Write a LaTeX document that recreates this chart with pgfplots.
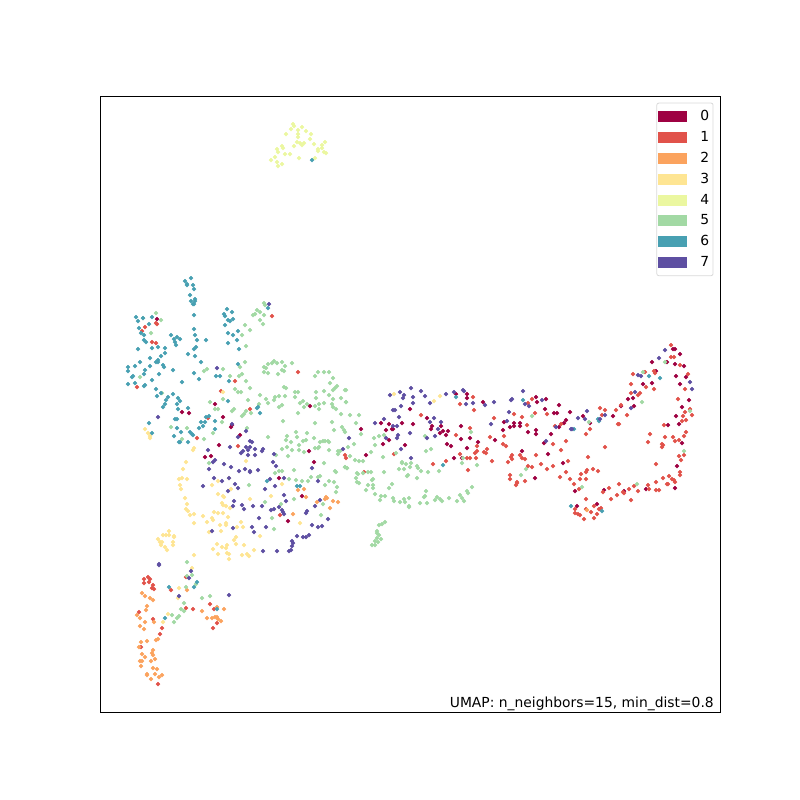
\documentclass[border=0pt]{standalone}
\usepackage{fontspec}
\setmainfont{DejaVu Sans}
\usepackage{pgfplots}
\pgfplotsset{compat=1.18}
\definecolor{c0}{HTML}{9E0142}
\definecolor{c1}{HTML}{E1524A}
\definecolor{c2}{HTML}{FBA35E}
\definecolor{c3}{HTML}{FEE593}
\definecolor{c4}{HTML}{EBF7A0}
\definecolor{c5}{HTML}{A2D9A4}
\definecolor{c6}{HTML}{48A0B2}
\definecolor{c7}{HTML}{5E4FA2}
\pgfplotsset{pt/.style={only marks, mark=*, mark size=1.42pt, color=#1, mark options={draw=none, fill=#1},
  legend image code/.code={\fill[#1,sharp corners] (0pt,-3.7pt) rectangle (21pt,3.7pt);}}}
\begin{document}
\begin{tikzpicture}[x=1pt,y=1pt]
\path (0,0) rectangle (600,600);
\begin{axis}[at={(75pt,65.6pt)},anchor=south west,scale only axis,width=465pt,height=462pt,
  xmin=100,xmax=720,ymin=96.5,ymax=712.5,y dir=reverse,xtick=\empty,ytick=\empty,
  axis line style={line width=0.6pt},
  legend cell align=left,
  legend style={at={(0.9895,0.99)},anchor=north east,draw=black!15,rounded corners=1.5pt,line width=0.6pt,
    font=\fontsize{10.4}{12}\selectfont,row sep=2.52pt,inner xsep=1pt,inner ysep=3.3pt,
    /tikz/every odd column/.append style={column sep=8pt},
    /tikz/every even column/.append style={column sep=4pt}}]
\addplot[pt=c0] coordinates {(157,319)(215,404)(182,412)(189,413)(223,417)(232,425)(231,427)
(310,406)(309,451)(314,462)(240,435)(219,445)(205,457)(211,456)(279,478)(302,496)(288,521)
(410,409)(381,423)(389,424)(402,423)(413,424)(386,430)(392,429)(393,429)(361,429)(389,440)(383,444)(405,445)(366,455)(427,418)(432,426)(441,426)(431,429)(440,433)(443,431)(448,431)(446,435)(461,426)(461,439)(470,438)(478,442)(447,444)(451,446)(467,448)(454,458)(462,458)(456,394)(467,394)(467,398)
(483,402)(536,397)(537,402)(546,399)(545,409)(559,405)(554,413)(557,413)(566,420)(564,423)(559,427)(504,422)(514,423)(514,426)(520,423)(520,426)(510,427)(503,430)(528,432)(536,430)(536,434)(551,434)(495,440)(544,443)(522,451)(548,454)(563,463)(535,478)
(675,349)(673,349)(680,354)(652,362)(667,362)(675,364)(684,366)(656,371)(676,376)(686,377)(643,384)(652,383)(680,384)(628,399)(633,398)(689,400)(634,406)(621,406)(682,407)(676,416)(613,416)(679,424)(668,425)(583,416)(590,423)(570,412)(682,443)(677,466)(675,488)(646,489)(624,491)(604,490)(575,491)(577,506)(597,504)};
\addlegendentry{0}
\addplot[pt=c1] coordinates {(145,327)(142,331)(156,323)(157,324)(152,342)(156,343)(137,387)(235,381)(221,391)(250,409)(208,418)
(272,316)(298,372)(345,455)(346,458)(238,446)(197,438)(280,515)
(148,577)(144,579)(150,579)(144,583)(149,582)(153,585)(152,588)(154,589)(171,590)(186,577)(139,612)(153,619)(162,628)(160,634)(141,647)(158,684)(186,608)(193,609)(210,604)(214,609)(217,623)(213,628)
(421,415)(473,397)(460,404)(474,410)(456,435)(470,428)(364,472)(394,454)(433,464)(446,461)(460,454)(477,446)(477,451)(475,453)(467,458)(470,458)(476,458)(468,470)
(532,399)(528,403)(514,414)(522,417)(535,413)(547,414)(494,418)(527,425)(555,426)(561,424)(504,436)(490,437)(503,444)(506,446)(566,441)(553,444)(561,450)(487,449)(484,452)(486,453)(492,461)(512,455)(511,457)(512,459)(508,462)(520,455)(536,455)(522,458)(525,459)(568,461)(528,466)(532,467)(541,464)(553,466)(547,469)(566,472)(510,475)(510,479)(525,481)(517,482)(517,483)(516,485)(560,477)
(671,345)(671,357)(674,357)(680,365)(654,371)(655,373)(645,372)(633,374)(688,374)(631,384)(646,387)(654,389)(685,389)(640,393)(638,395)(631,393)(678,399)(616,410)(621,405)(605,410)(600,408)(627,415)(602,415)(683,416)(685,412)(690,409)(692,415)(686,420)(682,421)(664,425)(686,432)(684,436)(679,440)(675,441)(618,424)(619,424)(590,429)(586,434)(650,434)(648,442)(665,437)(673,437)(662,444)(663,445)(662,447)(605,447)(588,457)(684,455)(679,456)(681,460)(656,464)(593,469)(598,471)(587,470)(586,472)(581,474)(586,479)(580,479)(570,479)(574,484)(680,472)(680,475)(669,476)(663,478)(672,479)(674,480)(675,482)(656,482)(619,484)(668,484)(667,484)(634,486)(648,485)(609,488)(649,489)(656,490)(659,490)(629,489)(638,491)(623,492)(624,493)(603,492)(579,489)(617,495)(611,499)(631,500)(586,499)(594,506)(586,509)(575,509)(575,513)(578,514)(580,515)(591,512)(600,509)(601,508)(599,509)(597,514)(594,518)(584,519)};
\addlegendentry{1}
\addplot[pt=c2] coordinates {(298,490)(304,489)(306,497)(326,497)(327,498)(325,499)(317,502)(333,501)(338,502)(330,508)(293,514)
(187,590)(142,593)(145,596)(150,598)(153,600)(147,606)(146,610)(137,615)(140,618)(145,622)(154,622)(140,626)(144,629)(147,641)(156,640)(158,639)(141,642)(139,647)(153,650)(142,654)(152,653)(153,655)(145,657)(155,659)(151,661)(140,661)(142,661)(141,666)(153,668)(157,669)(147,674)(147,675)(155,674)(162,675)(159,677)(151,679)(202,611)(224,609)(217,607)(207,618)(212,618)(215,617)(217,617)(218,619)(221,621)(587,510)};
\addlegendentry{2}
\addplot[pt=c3] coordinates {(223,392)(145,429)(148,433)(150,436)(150,438)
(194,448)(193,450)(246,461)(186,462)(183,469)(179,479)(182,478)(187,479)(180,485)(181,489)(218,481)(212,485)(229,478)(218,494)(223,496)(224,497)(231,489)(185,498)(187,504)(186,509)(188,511)(190,515)(194,514)(223,505)(222,503)(226,506)(230,508)(250,499)(214,512)(218,513)(223,513)(203,516)(212,518)(213,520)(228,517)
(282,484)(271,496)(300,523)
(194,523)(207,522)(220,525)(226,523)(226,525)(241,522)(237,527)(243,527)(209,532)(221,531)(260,536)(236,537)(234,540)(217,544)(227,545)(226,548)(222,547)(213,549)(244,545)(236,544)(254,550)(218,554)(227,553)(229,554)(229,559)(242,555)(247,554)(249,556)(194,555)
(169,531)(163,535)(166,535)(169,535)(174,536)(174,537)(158,539)(160,542)(162,542)(173,542)(161,545)(173,545)(165,547)(167,550)
(192,568)(179,588)(178,598)(168,614)(163,622)
(394,394)(434,401)(440,396)};
\addlegendentry{3}
\addplot[pt=c4] coordinates {(293,124)(294,126)(302,127)(291,129)(298,130)(306,131)(286,134)(298,134)(311,134)(298,137)(310,139)(297,142)(300,143)(304,143)(302,145)(314,144)(294,146)(282,146)(283,148)(277,149)(325,142)(322,145)(322,148)(318,149)(318,151)(324,152)(326,153)(278,152)(285,154)(290,154)(275,157)(271,160)(299,158)(315,158)(277,162)(282,164)(278,166)};
\addlegendentry{4}
\addplot[pt=c5] coordinates {(156,313)(143,318)(161,320)(151,333)(140,377)(264,303)(265,305)(257,310)(260,312)(255,314)(253,315)(264,315)(260,320)(263,324)(245,325)(250,330)(242,335)(246,346)(245,362)(240,367)(264,367)(268,364)(266,368)(264,372)(268,373)(207,369)(204,371)(223,369)(230,376)(242,374)(239,376)(246,381)(235,389)(238,392)(241,392)(250,388)(223,399)(210,402)(215,409)(218,409)(234,409)(232,411)(248,400)(260,395)(266,399)(268,403)(259,404)(251,413)(246,411)(244,414)(242,416)(222,422)(171,427)(187,428)(247,428)(162,393)
(272,363)(274,361)(277,363)(282,362)(292,363)(285,366)(282,370)(284,371)(278,374)(318,372)(324,372)(329,372)(315,376)(333,378)(330,383)(337,386)(335,388)(333,390)(345,390)(284,387)(286,388)(295,392)(298,392)(316,392)(324,391)(329,395)(279,396)(275,397)(274,400)(285,396)(295,397)(316,398)(333,399)(341,398)(346,402)(300,403)(303,401)(307,404)(304,407)(315,406)(319,404)(324,403)(319,409)(332,404)(333,407)(336,409)(279,407)(282,405)(298,413)(341,414)(283,421)(315,423)(332,422)(334,430)(342,427)(344,430)(296,432)(307,433)(287,436)(297,437)(286,440)(291,442)(303,441)(306,440)(299,445)(314,438)(320,442)(323,441)(325,441)(328,441)(329,442)(287,447)(282,449)(292,450)(299,450)(304,452)(315,448)(318,448)(319,447)(329,450)(338,451)(340,451)(338,454)(288,456)(276,455)(324,463)(345,467)(347,468)
(182,439)(204,439)(213,433)(268,437)(209,463)(249,485)(265,502)
(275,473)(279,471)(282,471)(294,470)(289,479)(296,480)(302,481)(308,481)(311,477)(318,477)(320,476)(329,481)(325,485)(334,482)(337,487)(336,492)(294,499)(323,504)(321,515)(272,518)(274,529)(335,471)(336,472)(281,504)
(187,562)(187,576)(192,575)(196,584)(186,587)(202,598)(210,596)(184,603)(181,609)(184,611)(172,615)(179,616)(177,618)(174,622)
(346,390)(346,402)(350,415)(359,415)(356,423)(361,434)(345,432)(374,438)(379,436)(375,445)(354,444)(348,447)(371,452)(384,435)(396,453)(383,457)(350,456)(355,460)(359,461)(363,461)(345,467)(347,468)(357,473)(358,474)(363,473)(368,472)(371,472)(384,472)(402,462)(402,463)(406,464)(411,463)(410,467)(399,469)(404,469)(417,466)(418,468)(421,471)(428,472)(439,471)(408,475)(407,476)(417,478)(373,479)(372,480)(356,478)(357,482)(359,483)(373,485)(368,485)(373,488)(366,490)(389,488)(392,484)(375,494)(381,496)(385,496)(380,500)(393,498)(394,501)(400,502)(404,499)(405,502)(409,498)(409,506)(409,507)(420,503)(427,503)(426,491)(425,496)(424,497)(435,500)(437,497)(440,499)(442,501)(449,498)(457,501)(460,495)(462,498)(464,501)(467,491)(468,493)(472,487)(426,451)(431,449)(425,436)(462,463)(471,432)(477,465)(463,458)
(385,522)(382,524)(379,525)(377,531)(377,533)(379,535)(377,538)(381,539)(372,545)(375,541)(375,545)(378,542)
(532,416)(526,469)(521,475)
(665,362)(643,372)(642,402)(690,411)(589,422)(684,451)(637,484)(582,487)};
\addlegendentry{5}
\addplot[pt=c6] coordinates {(191,278)(185,281)(187,284)(187,285)(193,285)(194,289)(190,295)(195,299)(191,301)(195,301)(194,304)(193,304)(194,315)(136,317)(143,318)(152,317)(138,321)(149,324)(139,328)(141,333)(144,335)(144,340)(146,342)(138,349)(152,348)(158,347)(171,335)(174,339)(177,337)(180,339)(175,342)(176,345)(165,348)(165,353)(161,356)(150,358)(158,360)(156,362)(158,362)(140,362)(135,366)(128,367)(128,371)(145,370)(150,366)(163,365)(164,367)(173,370)(159,374)(144,374)(133,376)(132,377)(152,380)(128,384)(135,383)(145,385)(144,386)(156,389)(157,396)(161,393)(168,397)(173,394)(178,398)(180,401)(177,404)(166,400)(165,404)(163,407)(178,409)(188,408)(175,419)(177,419)(177,428)(194,329)(195,335)(197,340)(206,340)(196,347)(194,349)(188,354)(195,356)(201,362)(194,373)(199,379)(182,382)(227,309)(232,312)(224,314)(225,316)(228,320)(233,319)(230,321)(225,325)(238,331)(228,333)(233,335)(237,340)(228,343)(239,349)(238,364)(216,376)(220,376)(229,381)(228,401)(258,407)(257,408)(260,413)(215,421)(215,429)(201,422)(205,422)(203,426)(199,428)(209,416)(206,417)(149,423)(268,308)(152,433)
(174,436)(181,432)(190,432)(192,434)(193,435)(180,442)(179,442)(188,442)(267,481)(297,486)(300,486)
(169,587)(197,582)(194,587)(165,618)(217,609)
(456,397)(443,465)(523,400)
(649,376)(660,378)(598,419)(599,421)(574,429)(571,506)(602,511)(312,160)};
\addlegendentry{6}
\addplot[pt=c7] coordinates {(269,304)(217,368)(158,417)(232,424)
(343,449)(274,454)(273,462)(276,466)(312,468)
(246,431)(230,447)(238,437)(250,441)(252,442)(208,450)(246,447)(250,447)(243,451)(241,453)(248,450)(255,449)(263,449)(262,451)(248,455)(255,455)(213,462)(215,460)(224,464)(231,467)(209,469)(239,471)(245,469)(250,471)(250,472)(258,470)(214,478)(229,478)(222,481)(235,484)(238,488)(228,491)(265,489)(203,486)(234,501)(242,505)(244,509)(233,506)(253,506)(262,506)(259,518)
(284,478)(270,479)(275,486)(284,495)(286,501)(279,507)(274,509)(271,510)(282,510)(284,514)(283,512)(306,513)(307,511)(315,506)(320,500)(318,481)(328,519)(312,525)(322,526)(318,527)(297,536)(303,537)(306,537)(309,535)(292,541)(293,543)(292,546)(291,550)(289,551)(277,551)
(212,531)(233,528)(252,527)(266,527)(254,532)(263,551)(159,564)(159,565)(191,571)(189,578)(179,596)(229,595)
(411,388)(390,395)(400,392)(404,395)(403,398)(421,391)(425,396)(430,403)(413,397)(413,403)(401,406)(393,410)(395,410)(399,417)(384,419)(375,423)(393,426)(397,426)(410,433)(398,435)(397,438)(386,438)(349,438)(401,449)(411,458)(434,418)(430,422)(441,422)(438,429)(427,438)(435,436)(446,394)(454,392)(463,390)(464,391)(466,404)(473,403)
(523,391)(511,400)(512,399)(494,402)(485,405)(525,404)(529,406)(542,400)(509,412)(507,421)(491,424)(556,427)(546,441)
(665,350)(659,358)(638,375)(641,376)(690,382)(692,389)(635,392)(631,408)(605,415)(587,411)(578,418)(585,419)(600,419)(571,429)(572,429)};
\addlegendentry{7}
\node[anchor=base east,inner sep=0pt,font=\fontsize{10.4}{12}\selectfont] at (axis cs:714,707) {UMAP: n\_neighbors=15, min\_dist=0.8};
\end{axis}
\end{tikzpicture}
\end{document}
